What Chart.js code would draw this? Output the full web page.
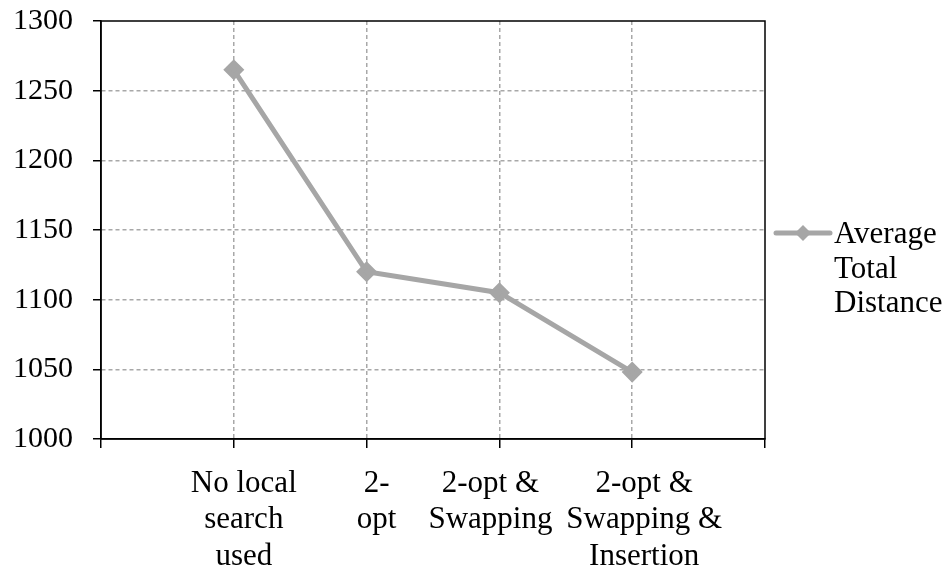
<!DOCTYPE html>
<html>
<head>
<meta charset="utf-8">
<script src="https://cdn.jsdelivr.net/npm/chart.js@4.4.0/dist/chart.umd.min.js"></script>
<style>
  html, body { margin: 0; padding: 0; background: #fff; }
  #wrap { width: 949px; height: 584px; position: relative; }
</style>
</head>
<body>
<div id="wrap"><canvas id="chart"></canvas></div>
<script>
// categories (blank slots at both ends, like the original axis)
const categories = [
  '',
  ['No local', 'search', 'used'],
  ['2-', 'opt'],
  ['2-opt &', 'Swapping'],
  ['2-opt &', 'Swapping &', 'Insertion'],
  ''
];
const distanceValues = [null, 1265, 1120, 1105, 1048, null];
const legendLines = ['Average', 'Total', 'Distance'];
const yTicks = [1000, 1050, 1100, 1150, 1200, 1250, 1300];

const serif = "'Liberation Serif', 'Times New Roman', serif";
const lineGrey = '#a6a6a6';
const gridGrey = '#a8a8a8';
// the original nudges some category labels sideways so they don't collide
const xLabelShift = [0, 10, 10, -9, 12, 0];

const labelShiftPlugin = {
  id: 'labelShift',
  beforeDraw(chart) {
    const items = chart.scales.x.getLabelItems(chart.chartArea);
    items.forEach((it, i) => {
      if (!it._shifted) {
        it.options.translation[0] += xLabelShift[i] || 0;
        it._shifted = true;
      }
    });
  }
};

// box around the plot + the legend on the right
const framePlugin = {
  id: 'frame',
  afterDraw(chart) {
    const { ctx, chartArea } = chart;
    ctx.save();
    ctx.strokeStyle = '#000';
    ctx.lineWidth = 1.5;
    ctx.strokeRect(chartArea.left, chartArea.top, chartArea.right - chartArea.left, chartArea.bottom - chartArea.top);

    // legend
    const ds = chart.data.datasets[0];
    const lx = chartArea.right + 11;
    const ly = 233;
    ctx.strokeStyle = ds.borderColor;
    ctx.lineWidth = 5;
    ctx.lineCap = 'round';
    ctx.beginPath();
    ctx.moveTo(lx, ly);
    ctx.lineTo(lx + 54, ly);
    ctx.stroke();
    ctx.fillStyle = ds.borderColor;
    ctx.beginPath();
    ctx.moveTo(lx + 27, ly - 8);
    ctx.lineTo(lx + 35, ly);
    ctx.lineTo(lx + 27, ly + 8);
    ctx.lineTo(lx + 19, ly);
    ctx.closePath();
    ctx.fill();

    ctx.fillStyle = '#000';
    ctx.font = '31px ' + serif;
    ctx.textBaseline = 'middle';
    ctx.textAlign = 'left';
    legendLines.forEach((t, i) => {
      ctx.fillText(t, lx + 58, ly + 2 + i * 34.5);
    });
    ctx.restore();
  }
};

new Chart(document.getElementById('chart'), {
  type: 'line',
  data: {
    labels: categories,
    datasets: [{
      label: legendLines.join(' '),
      data: distanceValues,
      borderColor: lineGrey,
      backgroundColor: lineGrey,
      borderWidth: 5,
      pointStyle: 'rectRot',
      pointRadius: 7,
      pointHoverRadius: 7,
      tension: 0,
      spanGaps: false
    }]
  },
  options: {
    responsive: true,
    maintainAspectRatio: false,
    animation: false,
    layout: { padding: { left: 0, top: 21, right: 184, bottom: 0 } },
    plugins: {
      legend: { display: false },
      tooltip: { enabled: false }
    },
    scales: {
      x: {
        offset: false,
        afterFit(scale) { scale.height = 145; },
        border: { display: true, color: '#000', width: 1.5, dash: [4, 3] },
        grid: {
          color: (c) => (c.index === 0 || c.index === categories.length - 1) ? 'rgba(0,0,0,0)' : gridGrey,
          lineWidth: 1.5,
          drawTicks: true,
          tickLength: 9,
          tickColor: '#000',
          tickWidth: 1.5
        },
        ticks: {
          color: '#000',
          padding: 17,
          maxRotation: 0,
          autoSkip: false,
          font: { family: serif, size: 31, lineHeight: 1.19 }
        }
      },
      y: {
        min: 1000,
        max: 1300,
        afterFit(scale) {
          scale.width = 101;
          scale.paddingTop = 0;
          scale.paddingBottom = 0;
        },
        afterBuildTicks(scale) { scale.ticks = yTicks.map(v => ({ value: v })); },
        border: { display: true, color: '#000', width: 1.5, dash: [4, 3] },
        grid: {
          color: (c) => (c.tick && (c.tick.value === 1000 || c.tick.value === 1300)) ? 'rgba(0,0,0,0)' : gridGrey,
          lineWidth: 1.5,
          drawTicks: true,
          tickLength: 8,
          tickColor: '#000',
          tickWidth: 1.5
        },
        ticks: {
          color: '#000',
          padding: 20,
          font: { family: serif, size: 30 },
          callback: (v) => String(v)
        }
      }
    }
  },
  plugins: [labelShiftPlugin, framePlugin]
});
</script>
</body>
</html>
